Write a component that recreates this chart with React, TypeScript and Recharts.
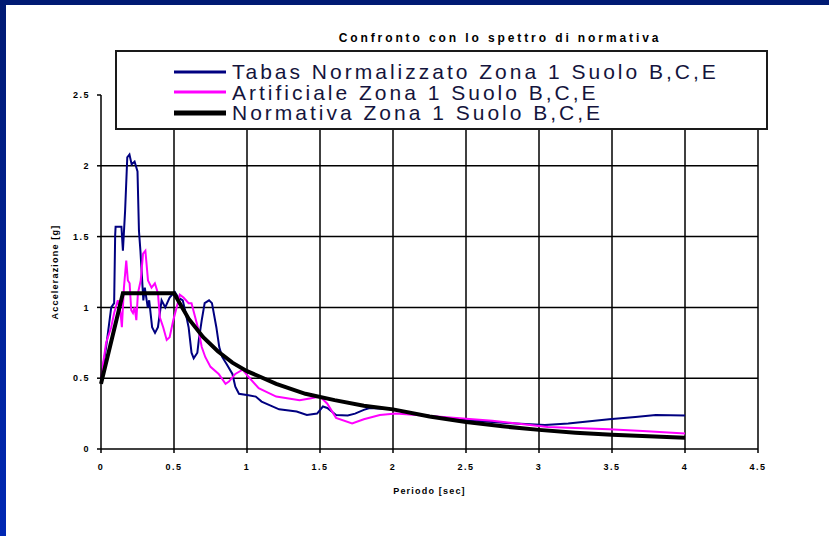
import React from "react";
import { LineChart, Line, XAxis, YAxis, CartesianGrid, Legend, Label } from "recharts";

// periods [sec] and spectral accelerations [g]
const tabasPeriod = [
  0, 0.035, 0.07, 0.09, 0.097, 0.1, 0.14, 0.15, 0.165, 0.18, 0.195, 0.21, 0.23, 0.25, 0.26,
  0.27, 0.29, 0.3, 0.32, 0.33, 0.35, 0.37, 0.39, 0.415, 0.44, 0.47, 0.505, 0.53, 0.56, 0.58,
  0.6, 0.62, 0.635, 0.66, 0.67, 0.69, 0.71, 0.74, 0.76, 0.79, 0.81, 0.83, 0.86, 0.9, 0.92,
  0.945, 1.01, 1.06, 1.1, 1.22, 1.34, 1.41, 1.48, 1.52, 1.55, 1.61, 1.69, 1.74, 1.8, 1.84,
  2.0, 2.2, 2.47, 2.68, 2.84, 3.04, 3.2, 3.48, 3.66, 3.8, 4.0,
];
const tabasAcc = [
  0.49, 0.72, 1.0, 1.03, 1.51, 1.57, 1.57, 1.4, 1.68, 2.06, 2.08, 2.01, 2.03, 1.96, 1.54,
  1.4, 1.05, 1.14, 1.0, 1.05, 0.86, 0.82, 0.86, 1.05, 1.0, 1.07, 1.11, 1.07, 1.05, 0.96,
  0.86, 0.68, 0.64, 0.68, 0.77, 0.91, 1.03, 1.05, 1.03, 0.86, 0.72, 0.65, 0.6, 0.53, 0.44,
  0.39, 0.38, 0.37, 0.335, 0.28, 0.265, 0.24, 0.25, 0.3, 0.29, 0.24, 0.237, 0.25, 0.276, 0.29,
  0.28, 0.24, 0.207, 0.19, 0.18, 0.17, 0.18, 0.21, 0.226, 0.24, 0.237,
];

const artPeriod = [
  0, 0.035, 0.07, 0.09, 0.115, 0.134, 0.143, 0.157, 0.173, 0.184, 0.196, 0.207, 0.219, 0.23,
  0.242, 0.253, 0.272, 0.288, 0.304, 0.322, 0.346, 0.369, 0.39, 0.403, 0.426, 0.45, 0.47,
  0.495, 0.518, 0.54, 0.565, 0.6, 0.62, 0.645, 0.668, 0.69, 0.714, 0.75, 0.806, 0.853, 0.876,
  0.92, 0.97, 1.01, 1.08, 1.2, 1.36, 1.43, 1.5, 1.55, 1.61, 1.72, 1.8, 1.91, 2.02, 2.3, 2.68,
  3.06, 3.48, 3.71, 4.0,
];
const artAcc = [
  0.5, 0.75, 0.86, 0.96, 1.05, 0.96, 0.86, 1.14, 1.33, 1.19, 1.17, 0.98, 0.96, 1.0,
  0.91, 1.1, 1.19, 1.38, 1.4, 1.19, 1.14, 1.17, 1.1, 0.93, 0.86, 0.77, 0.79,
  0.91, 1.0, 1.09, 1.07, 1.03, 1.03, 0.93, 0.84, 0.72, 0.65, 0.58, 0.53, 0.46, 0.476,
  0.53, 0.56, 0.51, 0.43, 0.37, 0.345, 0.357, 0.37, 0.32, 0.22, 0.18, 0.21, 0.24, 0.25, 0.23, 0.2,
  0.155, 0.14, 0.127, 0.11,
];

const normPeriod = [0, 0.15, 0.5, 0.6, 0.7, 0.8, 0.9, 1.0, 1.2, 1.4, 1.6, 1.8, 2.0, 2.25, 2.5, 2.75, 3.0, 3.25, 3.5, 3.75, 4.0];
const normAcc = [0.46, 1.1, 1.1, 0.92, 0.79, 0.69, 0.61, 0.55, 0.46, 0.39, 0.345, 0.305, 0.28, 0.23, 0.19, 0.16, 0.135, 0.115, 0.1, 0.09, 0.08];

const xTicks = [0, 0.5, 1, 1.5, 2, 2.5, 3, 3.5, 4, 4.5];
const yTicks = [0, 0.5, 1, 1.5, 2, 2.5];
const gridRows = [0.5, 1, 1.5, 2];

const zip = (t: number[], a: number[]) => t.map((v, i) => ({ t: v, a: a[i] }));

const SERIES = [
  { name: "Tabas Normalizzato Zona 1 Suolo B,C,E", color: "#000080", width: 2, keyWidth: 3, data: zip(tabasPeriod, tabasAcc) },
  { name: "Artificiale Zona 1 Suolo B,C,E", color: "#ff00ff", width: 2, keyWidth: 3, data: zip(artPeriod, artAcc) },
  { name: "Normativa Zona 1 Suolo B,C,E", color: "#000000", width: 4, keyWidth: 5, data: zip(normPeriod, normAcc) },
];

const FONT = "'Liberation Sans', Arial, sans-serif";
const tickStyle = { fill: "#000", fontSize: 9, fontWeight: 700, fontFamily: FONT, letterSpacing: 1.5 };
const axisTitleStyle = { fill: "#000", fontSize: 9, fontWeight: 700, fontFamily: FONT, letterSpacing: 1.2 };

function LegendBox() {
  return (
    <div
      style={{
        width: 653,
        height: 80,
        boxSizing: "border-box",
        border: "2px solid #1a1a1a",
        background: "#fff",
        position: "relative",
      }}
    >
      {SERIES.map((s, i) => (
        <div
          key={s.name}
          style={{ position: "absolute", left: 56, top: 10 + i * 20.5, height: 19, display: "flex", alignItems: "center" }}
        >
          <svg width={54} height={8}>
            <line x1={1} x2={53} y1={4} y2={4} stroke={s.color} strokeWidth={s.keyWidth} />
          </svg>
          <span
            style={{
              display: "inline-block",
              height: 19,
              marginLeft: 5,
              fontFamily: FONT,
              fontSize: 21,
              letterSpacing: 3,
              lineHeight: "19px",
              color: "#14143c",
              whiteSpace: "nowrap",
            }}
          >
            {s.name}
          </span>
        </div>
      ))}
    </div>
  );
}

export default function App() {
  return (
    <div style={{ position: "absolute", left: 0, top: 0, width: 829, height: 536, background: "#fff", overflow: "hidden" }}>
      <LineChart width={829} height={536} margin={{ top: 95, right: 71, bottom: 57, left: 9 }}>
        <CartesianGrid stroke="#000" strokeWidth={1.5} horizontalValues={gridRows} verticalValues={xTicks.slice(1)} />
        <XAxis
          dataKey="t"
          type="number"
          domain={[0, 4.5]}
          ticks={xTicks}
          allowDuplicatedCategory={false}
          height={30}
          stroke="#000"
          strokeWidth={1.5}
          tickSize={4}
          tickMargin={11}
          tick={tickStyle}
        >
          <Label value="Periodo [sec]" position="bottom" offset={9} style={axisTitleStyle} />
        </XAxis>
        <YAxis
          dataKey="a"
          type="number"
          domain={[0, 2.5]}
          ticks={yTicks}
          width={92}
          stroke="#000"
          strokeWidth={1.5}
          tickSize={4}
          tickMargin={7}
          tick={tickStyle}
        >
          <Label value="Accelerazione [g]" position="center" angle={-90} style={axisTitleStyle} />
        </YAxis>
        {SERIES.map((s) => (
          <Line
            key={s.name}
            name={s.name}
            data={s.data}
            dataKey="a"
            type="linear"
            stroke={s.color}
            strokeWidth={s.width}
            dot={false}
            activeDot={false}
            isAnimationActive={false}
          />
        ))}
        <Legend
          layout="vertical"
          align="center"
          verticalAlign="middle"
          wrapperStyle={{ left: 115, top: 50, width: 653, height: 80 }}
          content={() => <LegendBox />}
        />
      </LineChart>
      <div
        style={{
          position: "absolute",
          left: 300,
          top: 31,
          width: 400,
          textAlign: "center",
          fontFamily: FONT,
          fontSize: 12,
          fontWeight: 700,
          letterSpacing: 2.9,
          lineHeight: "14px",
          color: "#000",
        }}
      >
        Confronto con lo spettro di normativa
      </div>
      <div style={{ position: "absolute", left: 0, top: 0, width: 829, height: 5, background: "#001a73" }} />
      <div
        style={{
          position: "absolute",
          left: 0,
          top: 0,
          width: 6,
          height: 536,
          background: "linear-gradient(#001a73, #0028b4)",
        }}
      />
    </div>
  );
}
